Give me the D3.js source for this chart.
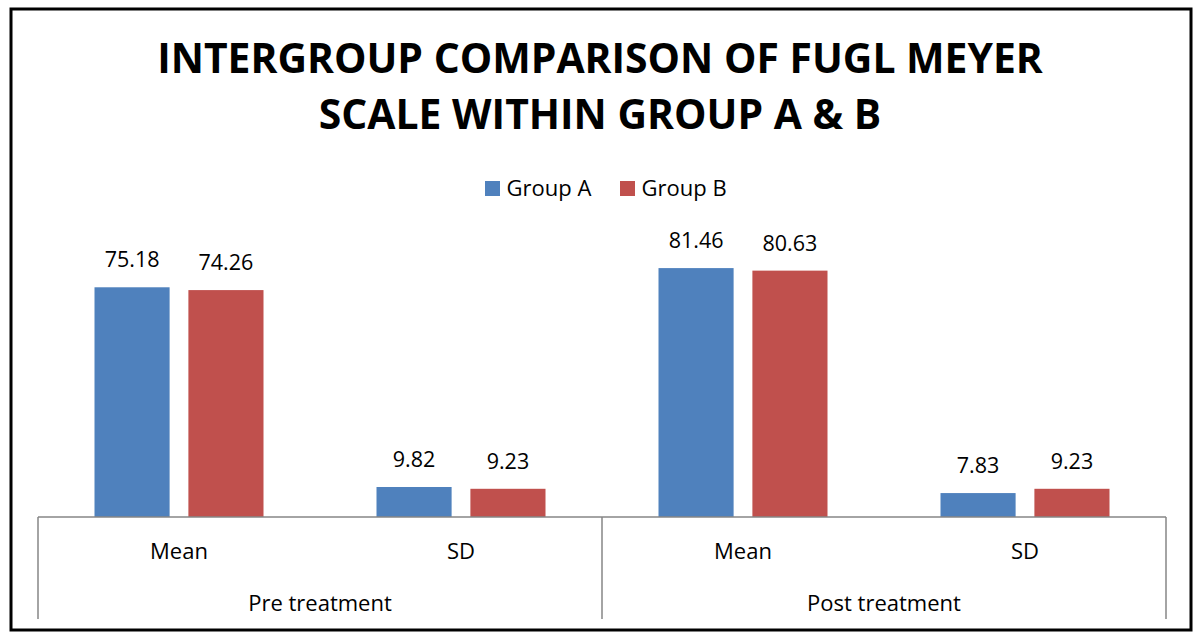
<!DOCTYPE html>
<html>
<head>
<meta charset="utf-8">
<script src="https://cdn.jsdelivr.net/npm/d3@7"></script>
<style>
  body { margin: 0; background: #fff; }
  text { font-family: "Open Sans", "Noto Sans", sans-serif; fill: #000; }
</style>
</head>
<body>
<div id="chart"></div>
<script>
// data
var periods = ["Pre treatment", "Post treatment"];
var stats = ["Mean", "SD"];
var groups = ["Group A", "Group B"];
var groupA = [75.18, 9.82, 81.46, 7.83];
var groupB = [74.26, 9.23, 80.63, 9.23];
var titleLines = ["INTERGROUP COMPARISON OF FUGL MEYER", "SCALE WITHIN GROUP A & B"];

var colors = {"Group A": "#4F81BD", "Group B": "#C0504D"};

var W = 1194, H = 633;
var margin = {top: 242, left: 38, right: 28, bottom: 116};
var width = W - margin.left - margin.right,
    height = H - margin.top - margin.bottom;

var svg = d3.select("#chart")
  .append("svg")
    .attr("width", W)
    .attr("height", H);

// outer frame
svg.append("rect")
  .attr("x", 11).attr("y", 9)
  .attr("width", 1180).attr("height", 621)
  .attr("fill", "none")
  .attr("stroke", "#000")
  .attr("stroke-width", 3);

// title, first line fitted to the width seen in the picture
var fs = 40;
titleLines.forEach(function(t, i) {
  var txt = svg.append("text")
    .attr("x", W / 2 + 3)
    .attr("y", 73 + i * 56)
    .attr("text-anchor", "middle")
    .attr("font-weight", "bold")
    .attr("font-size", fs)
    .text(t);
  if (i == 0) {
    fs = 40 * 886 / txt.node().getComputedTextLength();
    txt.attr("font-size", fs);
  }
});

// legend
var legend = svg.append("g");
var legX = [485, 620];
groups.forEach(function(g, i) {
  legend.append("rect")
    .attr("x", legX[i]).attr("y", 181)
    .attr("width", 15).attr("height", 15)
    .attr("fill", colors[g]);
  legend.append("text")
    .attr("x", legX[i] + 21.5).attr("y", 196)
    .attr("font-size", 22)
    .text(g);
});

var g = svg.append("g")
  .attr("transform", "translate(" + margin.left + "," + margin.top + ")");

// flat categories (period x stat)
var cats = [];
periods.forEach(function(p) {
  stats.forEach(function(s) { cats.push(p + "|" + s); });
});

var x0 = d3.scaleBand().domain(periods).range([0, width]);
var x1 = d3.scaleBand().domain(cats).range([0, width]);
var xg = d3.scaleBand().domain(groups).range([56.5, x1.bandwidth() - 56.5]).paddingInner(0.2);

var y = d3.scaleLinear()
  .domain([0, 90])
  .range([height, 0]);

var rows = [];
cats.forEach(function(c, i) {
  rows.push({cat: c, group: "Group A", value: groupA[i]});
  rows.push({cat: c, group: "Group B", value: groupB[i]});
});

g.selectAll("rect.bar")
  .data(rows)
  .enter().append("rect")
    .attr("class", "bar")
    .attr("x", function(d) { return x1(d.cat) + xg(d.group); })
    .attr("y", function(d) { return y(d.value); })
    .attr("width", xg.bandwidth())
    .attr("height", function(d) { return height - y(d.value); })
    .attr("fill", function(d) { return colors[d.group]; });

g.selectAll("text.val")
  .data(rows)
  .enter().append("text")
    .attr("class", "val")
    .attr("x", function(d) { return x1(d.cat) + xg(d.group) + xg.bandwidth() / 2; })
    .attr("y", function(d) { return y(d.value) - 20; })
    .attr("text-anchor", "middle")
    .attr("font-size", 21.5)
    .text(function(d) { return d.value.toFixed(2); });

// multi-level category axis
var axisColor = "#868686";
g.append("line")
  .attr("x1", 0).attr("x2", width)
  .attr("y1", height).attr("y2", height)
  .attr("stroke", axisColor).attr("stroke-width", 1.5);

[0, x0("Post treatment"), width].forEach(function(px) {
  g.append("line")
    .attr("x1", px).attr("x2", px)
    .attr("y1", height).attr("y2", height + 102)
    .attr("stroke", axisColor).attr("stroke-width", 1.5);
});

g.selectAll("text.cat")
  .data(cats)
  .enter().append("text")
    .attr("class", "cat")
    .attr("x", function(d) { return x1(d) + x1.bandwidth() / 2; })
    .attr("y", height + 42)
    .attr("text-anchor", "middle")
    .attr("font-size", 22)
    .text(function(d) { return d.split("|")[1]; });

g.selectAll("text.period")
  .data(periods)
  .enter().append("text")
    .attr("class", "period")
    .attr("x", function(d) { return x0(d) + x0.bandwidth() / 2; })
    .attr("y", height + 94)
    .attr("text-anchor", "middle")
    .attr("font-size", 22)
    .text(function(d) { return d; });
</script>
</body>
</html>
